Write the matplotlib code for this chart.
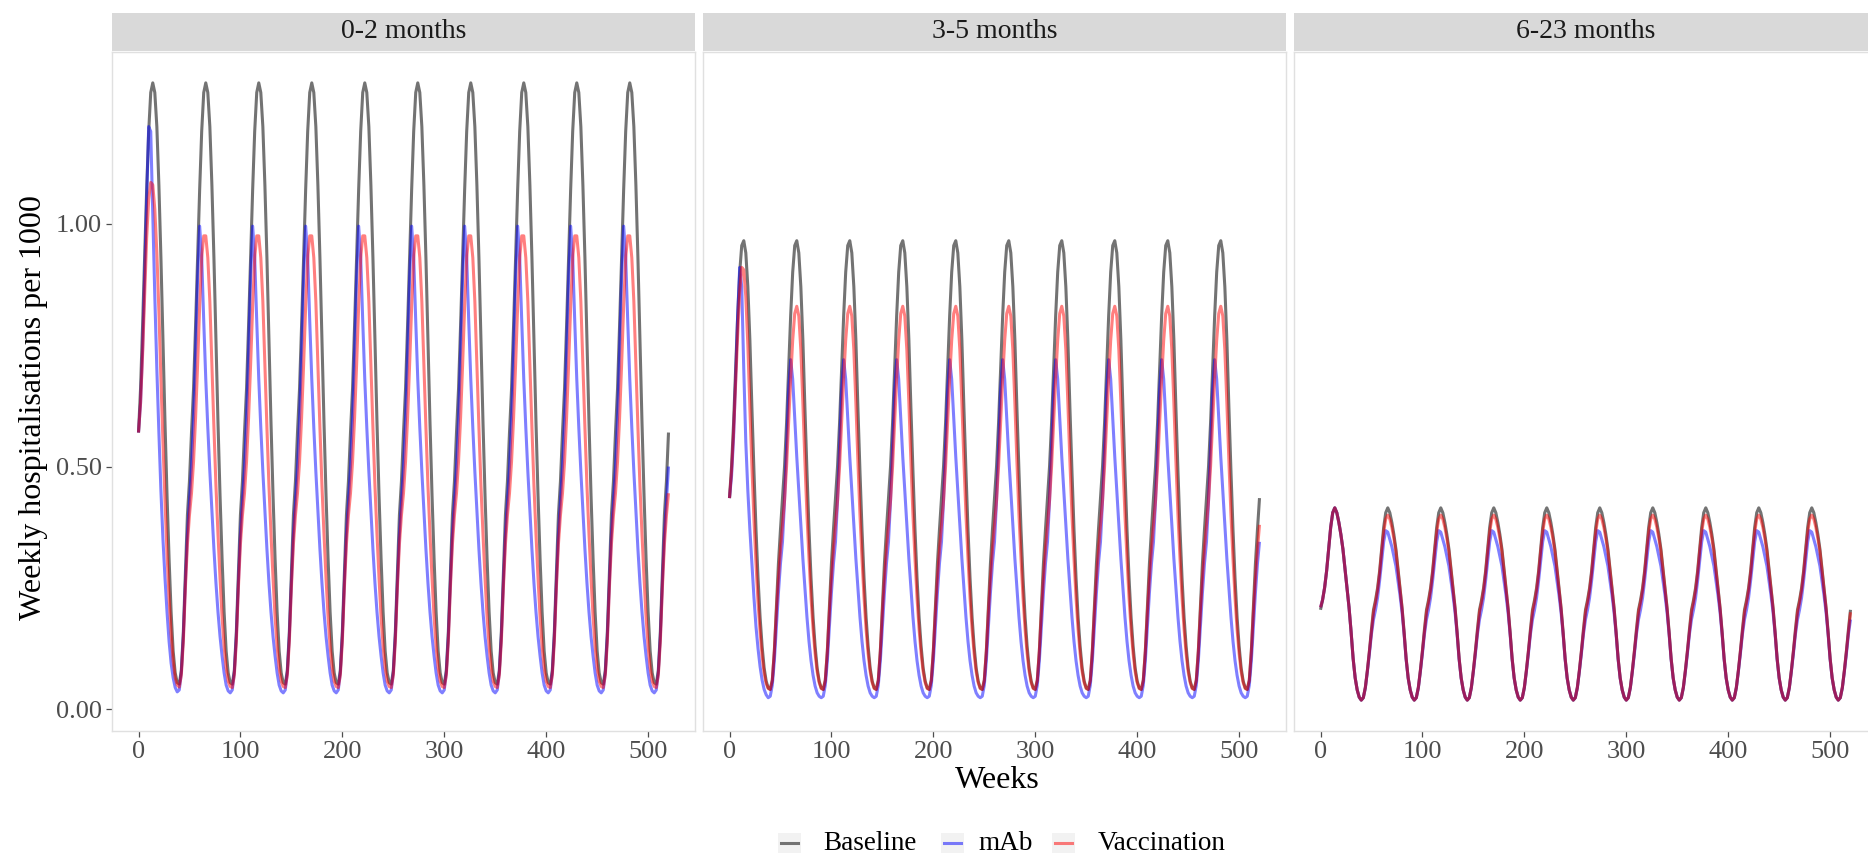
import numpy as np
import matplotlib
matplotlib.use("Agg")
import matplotlib.pyplot as plt
from matplotlib.patches import Rectangle
from matplotlib.lines import Line2D

# weekly hospitalisations per 1000, read every 2 weeks over one 52-week season
# (first season is separate, later seasons repeat the steady-state profile)
season_weeks = np.arange(0, 52, 2)
n_seasons = 10

panels = ["0-2 months", "3-5 months", "6-23 months"]
scenarios = ["Baseline", "mAb", "Vaccination"]

base_02 = [0.57, 0.66, 0.79, 0.93, 1.07, 1.19, 1.27, 1.29, 1.27, 1.20, 1.08, 0.93, 0.76,
           0.59, 0.44, 0.31, 0.20, 0.12, 0.075, 0.055, 0.052, 0.08, 0.16, 0.28, 0.40, 0.47]
mab_02_first = [0.57, 0.63, 0.74, 0.89, 1.05, 1.20, 1.19, 1.02, 0.85, 0.70, 0.57, 0.45, 0.35,
                0.27, 0.20, 0.14, 0.095, 0.065, 0.045, 0.036, 0.04, 0.075, 0.15, 0.26, 0.36, 0.43]
mab_02 = [0.50, 0.60, 0.74, 0.89, 0.995, 0.93, 0.80, 0.68, 0.58, 0.49, 0.41, 0.33, 0.26,
          0.20, 0.15, 0.11, 0.075, 0.05, 0.038, 0.034, 0.04, 0.075, 0.15, 0.26, 0.36, 0.43]
vac_02_first = [0.57, 0.63, 0.73, 0.85, 0.97, 1.05, 1.085, 1.08, 1.03, 0.94, 0.82, 0.68, 0.55,
                0.43, 0.32, 0.23, 0.155, 0.10, 0.065, 0.05, 0.046, 0.07, 0.14, 0.25, 0.34, 0.40]
vac_02 = [0.445, 0.51, 0.60, 0.71, 0.83, 0.93, 0.975, 0.975, 0.93, 0.84, 0.71, 0.58, 0.46,
          0.36, 0.27, 0.19, 0.13, 0.085, 0.058, 0.047, 0.045, 0.07, 0.14, 0.25, 0.34, 0.40]

base_35 = [0.435, 0.50, 0.59, 0.70, 0.81, 0.90, 0.955, 0.965, 0.94, 0.87, 0.76, 0.62, 0.49,
           0.37, 0.27, 0.19, 0.13, 0.085, 0.058, 0.044, 0.041, 0.06, 0.12, 0.21, 0.30, 0.37]
mab_35_first = [0.435, 0.48, 0.56, 0.68, 0.81, 0.91, 0.87, 0.70, 0.55, 0.45, 0.37, 0.30, 0.23,
                0.17, 0.125, 0.088, 0.06, 0.041, 0.03, 0.024, 0.027, 0.05, 0.10, 0.17, 0.24, 0.30]
mab_35 = [0.345, 0.43, 0.54, 0.66, 0.72, 0.68, 0.60, 0.52, 0.45, 0.38, 0.31, 0.25, 0.19,
          0.14, 0.10, 0.07, 0.048, 0.034, 0.027, 0.024, 0.027, 0.05, 0.10, 0.17, 0.24, 0.30]
vac_35_first = [0.435, 0.49, 0.57, 0.67, 0.77, 0.86, 0.91, 0.905, 0.85, 0.75, 0.62, 0.50, 0.39,
                0.30, 0.22, 0.16, 0.11, 0.075, 0.053, 0.043, 0.041, 0.06, 0.12, 0.20, 0.27, 0.33]
vac_35 = [0.38, 0.43, 0.50, 0.59, 0.68, 0.76, 0.815, 0.83, 0.81, 0.74, 0.63, 0.51, 0.40,
          0.31, 0.23, 0.165, 0.115, 0.078, 0.055, 0.043, 0.041, 0.06, 0.12, 0.20, 0.27, 0.33]

base_623 = [0.205, 0.225, 0.25, 0.285, 0.33, 0.375, 0.405, 0.415, 0.405, 0.385, 0.36, 0.33, 0.29,
            0.25, 0.21, 0.16, 0.105, 0.065, 0.04, 0.025, 0.019, 0.024, 0.045, 0.08, 0.12, 0.165]
mab_623_first = [0.21, 0.225, 0.25, 0.285, 0.33, 0.375, 0.405, 0.415, 0.405, 0.385, 0.36, 0.33, 0.29,
                 0.25, 0.21, 0.16, 0.105, 0.065, 0.04, 0.025, 0.019, 0.024, 0.044, 0.078, 0.115, 0.155]
mab_623 = [0.185, 0.205, 0.23, 0.265, 0.305, 0.345, 0.368, 0.365, 0.35, 0.335, 0.315, 0.295, 0.265,
           0.235, 0.20, 0.155, 0.103, 0.064, 0.04, 0.025, 0.019, 0.024, 0.044, 0.078, 0.115, 0.155]
vac_623_first = [0.21, 0.225, 0.25, 0.285, 0.33, 0.375, 0.405, 0.415, 0.405, 0.385, 0.36, 0.33, 0.29,
                 0.25, 0.21, 0.16, 0.105, 0.065, 0.04, 0.025, 0.019, 0.024, 0.045, 0.08, 0.12, 0.162]
vac_623 = [0.20, 0.22, 0.245, 0.28, 0.325, 0.365, 0.392, 0.40, 0.392, 0.375, 0.352, 0.325, 0.285,
           0.247, 0.208, 0.158, 0.105, 0.065, 0.04, 0.025, 0.019, 0.024, 0.045, 0.08, 0.12, 0.162]

x_ticks = [0, 100, 200, 300, 400, 500]
y_ticks = [0.0, 0.5, 1.0]
y_ticklabels = ["0.00", "0.50", "1.00"]

colors = {"Baseline": "#737373", "mAb": "#0000ff", "Vaccination": "#ff0000"}
alphas = {"Baseline": 1.0, "mAb": 0.5, "Vaccination": 0.5}


def build(first, steady):
    # first season, then steady seasons, then week 520
    return np.array(list(first) + list(steady) * (n_seasons - 1) + [steady[0]])


weeks = np.concatenate([season_weeks + 52 * k for k in range(n_seasons)] + [[52 * n_seasons]])
series = {
    "0-2 months": {"Baseline": build(base_02, base_02),
                   "mAb": build(mab_02_first, mab_02),
                   "Vaccination": build(vac_02_first, vac_02)},
    "3-5 months": {"Baseline": build(base_35, base_35),
                   "mAb": build(mab_35_first, mab_35),
                   "Vaccination": build(vac_35_first, vac_35)},
    "6-23 months": {"Baseline": build(base_623, base_623),
                    "mAb": build(mab_623_first, mab_623),
                    "Vaccination": build(vac_623_first, vac_623)},
}

plt.rcParams["font.family"] = ["Liberation Serif", "DejaVu Serif"]

W, H = 1868, 855
fig = plt.figure(figsize=(W / 100, H / 100), dpi=100)


def fx(px):
    return px / W


def fy(py):
    return 1 - py / H


# ggplot-like 5% expansion on the shared y scale
all_y = np.concatenate([v for p in series.values() for v in p.values()])
y_lo, y_hi = all_y.min(), all_y.max()
y_pad = 0.05 * (y_hi - y_lo)
x_pad = 0.05 * weeks.max()

panel_left = [112, 703, 1294]
panel_w = 583
top_strip, top_panel, bottom_panel = 13, 52, 731

for i, name in enumerate(panels):
    left = panel_left[i]
    ax = fig.add_axes([fx(left), fy(bottom_panel), panel_w / W, (bottom_panel - top_panel) / H])
    for sc in scenarios:
        ax.plot(weeks, series[name][sc], color=colors[sc], alpha=alphas[sc], lw=2.2,
                solid_joinstyle="round", solid_capstyle="butt")
    ax.set_xlim(-x_pad, weeks.max() + x_pad)
    ax.set_ylim(y_lo - y_pad, y_hi + y_pad)
    ax.set_xticks(x_ticks)
    ax.set_xticklabels([str(t) for t in x_ticks])
    ax.set_yticks(y_ticks)
    if i == 0:
        ax.set_yticklabels(y_ticklabels)
    else:
        ax.tick_params(axis="y", left=False, labelleft=False)
    ax.tick_params(axis="both", length=4, width=0.9, color="#4d4d4d", labelcolor="#4d4d4d",
                   labelsize=19, pad=3)
    for s in ax.spines.values():
        s.set_color("#e0e0e0")
        s.set_linewidth(1.0)

    # facet strip
    sax = fig.add_axes([fx(left), fy(top_panel - 1), panel_w / W, (top_panel - 1 - top_strip) / H])
    sax.set_facecolor("#d9d9d9")
    sax.set_xticks([])
    sax.set_yticks([])
    for s in sax.spines.values():
        s.set_visible(False)
    sax.text(0.5, 0.5, name, ha="center", va="center", fontsize=20, color="#1a1a1a",
             transform=sax.transAxes)

fig.text(fx(34), fy(408), "Weekly hospitalisations per 1000",
         rotation=90, ha="center", va="center", fontsize=23)
fig.text(fx(997), fy(780), "Weeks", ha="center", va="center", fontsize=23)

# legend at bottom with grey key boxes
legend_y = 843
key_x = [781, 944, 1055]
text_x = [823, 978, 1098]
for sc, kx, tx in zip(scenarios, key_x, text_x):
    fig.patches.append(Rectangle((fx(kx - 3), fy(legend_y + 10)), 23 / W, 20 / H,
                                 transform=fig.transFigure, facecolor="#f2f2f2",
                                 edgecolor="none"))
    fig.lines.append(Line2D([fx(kx), fx(kx + 17)], [fy(legend_y), fy(legend_y)],
                            transform=fig.transFigure, color=colors[sc], alpha=alphas[sc],
                            lw=2.2))
    fig.text(fx(tx), fy(legend_y), sc, ha="left", va="center", fontsize=19.5)

fig.savefig("out.png", dpi=100)
